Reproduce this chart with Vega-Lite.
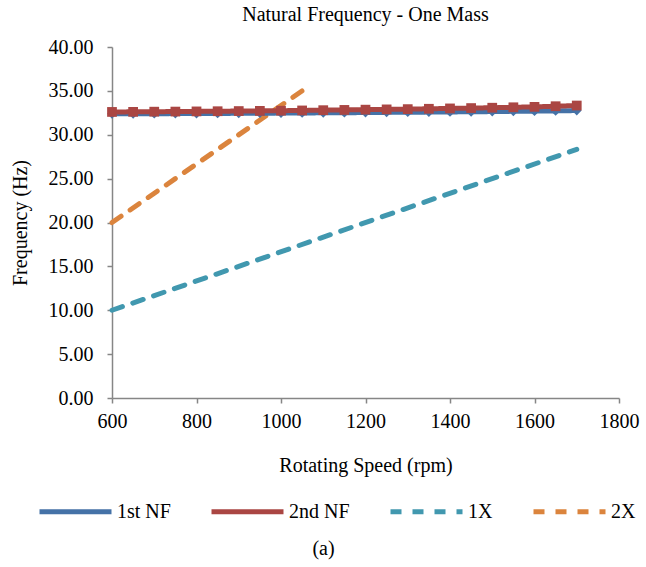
{
  "$schema": "https://vega.github.io/schema/vega-lite/v6.json",
  "background": "white",
  "padding": {"left": 10, "top": 5, "right": 5, "bottom": 5},
  "title": {"text": "(a)", "orient": "bottom", "anchor": "middle", "font": "Liberation Serif", "fontSize": 20, "fontWeight": "normal", "color": "black", "offset": 17, "dx": -1},
  "config": {
    "font": "Liberation Serif",
    "view": {"stroke": null},
    "axis": {"grid": false, "domainColor": "#868686", "tickColor": "#868686", "domainWidth": 1.5, "tickWidth": 1.5, "tickSize": 5, "labelFont": "Liberation Serif", "labelFontSize": 20, "labelColor": "black", "titleFont": "Liberation Serif", "titleFontSize": 20, "titleFontWeight": "normal", "titleColor": "black"},
    "legend": {"labelFont": "Liberation Serif", "labelFontSize": 20, "labelColor": "black"}
  },
  "datasets": {
    "nf": [
      {"rpm": 600, "series": "1st NF", "hz": 32.38}, {"rpm": 650, "series": "1st NF", "hz": 32.39}, {"rpm": 700, "series": "1st NF", "hz": 32.40}, {"rpm": 750, "series": "1st NF", "hz": 32.41}, {"rpm": 800, "series": "1st NF", "hz": 32.42}, {"rpm": 850, "series": "1st NF", "hz": 32.43}, {"rpm": 900, "series": "1st NF", "hz": 32.44}, {"rpm": 950, "series": "1st NF", "hz": 32.45}, {"rpm": 1000, "series": "1st NF", "hz": 32.47}, {"rpm": 1050, "series": "1st NF", "hz": 32.48}, {"rpm": 1100, "series": "1st NF", "hz": 32.50}, {"rpm": 1150, "series": "1st NF", "hz": 32.51}, {"rpm": 1200, "series": "1st NF", "hz": 32.53}, {"rpm": 1250, "series": "1st NF", "hz": 32.55}, {"rpm": 1300, "series": "1st NF", "hz": 32.57}, {"rpm": 1350, "series": "1st NF", "hz": 32.58}, {"rpm": 1400, "series": "1st NF", "hz": 32.60}, {"rpm": 1450, "series": "1st NF", "hz": 32.62}, {"rpm": 1500, "series": "1st NF", "hz": 32.64}, {"rpm": 1550, "series": "1st NF", "hz": 32.67}, {"rpm": 1600, "series": "1st NF", "hz": 32.69}, {"rpm": 1650, "series": "1st NF", "hz": 32.72}, {"rpm": 1700, "series": "1st NF", "hz": 32.76},
      {"rpm": 600, "series": "2nd NF", "hz": 32.60}, {"rpm": 650, "series": "2nd NF", "hz": 32.61}, {"rpm": 700, "series": "2nd NF", "hz": 32.63}, {"rpm": 750, "series": "2nd NF", "hz": 32.64}, {"rpm": 800, "series": "2nd NF", "hz": 32.66}, {"rpm": 850, "series": "2nd NF", "hz": 32.68}, {"rpm": 900, "series": "2nd NF", "hz": 32.70}, {"rpm": 950, "series": "2nd NF", "hz": 32.72}, {"rpm": 1000, "series": "2nd NF", "hz": 32.74}, {"rpm": 1050, "series": "2nd NF", "hz": 32.77}, {"rpm": 1100, "series": "2nd NF", "hz": 32.80}, {"rpm": 1150, "series": "2nd NF", "hz": 32.83}, {"rpm": 1200, "series": "2nd NF", "hz": 32.86}, {"rpm": 1250, "series": "2nd NF", "hz": 32.89}, {"rpm": 1300, "series": "2nd NF", "hz": 32.92}, {"rpm": 1350, "series": "2nd NF", "hz": 32.96}, {"rpm": 1400, "series": "2nd NF", "hz": 33.00}, {"rpm": 1450, "series": "2nd NF", "hz": 33.04}, {"rpm": 1500, "series": "2nd NF", "hz": 33.08}, {"rpm": 1550, "series": "2nd NF", "hz": 33.13}, {"rpm": 1600, "series": "2nd NF", "hz": 33.18}, {"rpm": 1650, "series": "2nd NF", "hz": 33.25}, {"rpm": 1700, "series": "2nd NF", "hz": 33.33}
    ],
    "harm": [
      {"rpm": 600, "series": "1X", "hz": 10.0}, {"rpm": 1700, "series": "1X", "hz": 28.33},
      {"rpm": 600, "series": "2X", "hz": 20.0}, {"rpm": 1050, "series": "2X", "hz": 35.0}
    ]
  },
  "vconcat": [
    {
      "width": 507,
      "height": 351,
      "title": {"text": "Natural Frequency - One Mass", "font": "Liberation Serif", "fontSize": 20, "fontWeight": "normal", "color": "black", "offset": 12},
      "encoding": {
        "x": {"field": "rpm", "type": "quantitative", "title": "Rotating Speed (rpm)", "scale": {"domain": [600, 1800], "nice": false}, "axis": {"values": [600, 800, 1000, 1200, 1400, 1600, 1800], "format": "d", "labelFlush": false, "labelPadding": 8, "titlePadding": 24}},
        "y": {"field": "hz", "type": "quantitative", "title": "Frequency (Hz)", "scale": {"domain": [0, 40], "nice": false}, "axis": {"values": [0, 5, 10, 15, 20, 25, 30, 35, 40], "format": ".2f", "labelFlush": false, "labelPadding": 14, "titlePadding": 18}},
        "color": {"field": "series", "type": "nominal", "scale": {"domain": ["1st NF", "2nd NF", "1X", "2X"], "range": ["#4572A7", "#AA4643", "#4198AF", "#DB843D"]},
          "legend": {"orient": "none", "legendX": -75, "legendY": 426, "direction": "horizontal", "title": null, "symbolType": "stroke", "symbolSize": 5184, "symbolStrokeWidth": 5, "columnPadding": 30, "labelOffset": 3}},
        "strokeDash": {"field": "series", "type": "nominal", "scale": {"domain": ["1st NF", "2nd NF", "1X", "2X"], "range": [[1, 0], [1, 0], [11, 11], [11, 11]]},
          "legend": {"orient": "none", "legendX": -75, "legendY": 426, "direction": "horizontal", "title": null, "symbolType": "stroke", "symbolSize": 5184, "symbolStrokeWidth": 5, "columnPadding": 30, "labelOffset": 3}}
      },
      "layer": [
        {"data": {"name": "harm"}, "mark": {"type": "line", "strokeWidth": 5, "strokeCap": "round"}},
        {"data": {"name": "nf"}, "mark": {"type": "line", "strokeWidth": 5}},
        {"data": {"name": "nf"}, "mark": {"type": "point", "filled": true, "opacity": 1, "size": 95},
          "encoding": {"shape": {"field": "series", "type": "nominal", "scale": {"domain": ["1st NF", "2nd NF"], "range": ["diamond", "square"]}, "legend": null}, "strokeDash": {"value": null}}}
      ]
    }
  ]
}
